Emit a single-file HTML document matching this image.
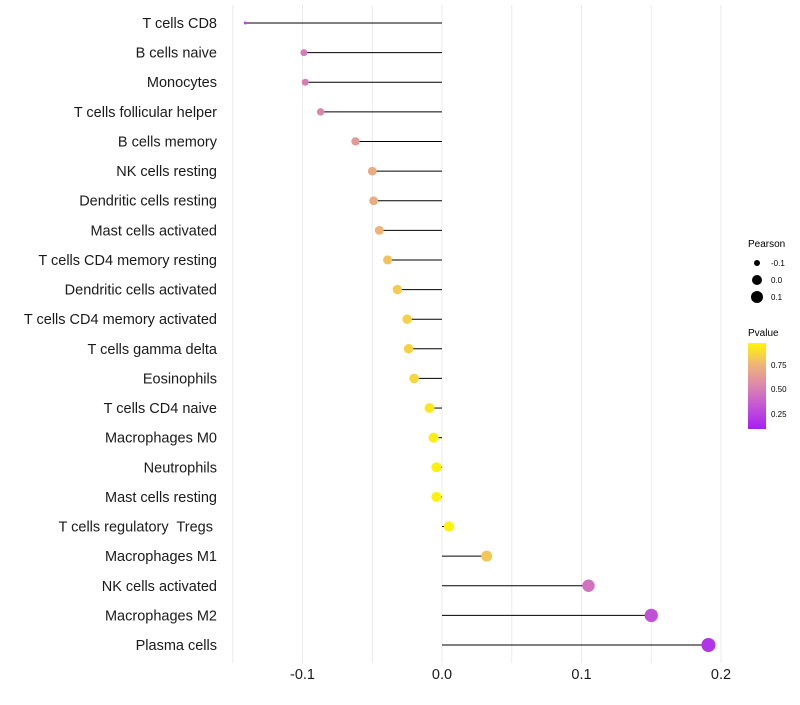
<!DOCTYPE html>
<html><head><meta charset="utf-8"><style>
body{margin:0;background:#fff;font-family:"Liberation Sans",sans-serif}
text{white-space:pre}
</style></head><body>
<svg id="chart" width="800" height="700" xmlns="http://www.w3.org/2000/svg">
<g id="grid"></g>
<g id="marks"></g>
<g id="ylabels"></g>
<g id="xlabels"></g>
<g font-size="10" fill="#000">
<text x="748" y="247">Pearson</text>
<circle cx="757" cy="263" r="3"/>
<text x="771" y="266" font-size="8">-0.1</text>
<circle cx="757" cy="280" r="5"/>
<text x="771" y="283" font-size="8">0.0</text>
<circle cx="757" cy="297" r="6"/>
<text x="771" y="300" font-size="8">0.1</text>
</g>
<defs><linearGradient id="pg" x1="0" y1="1" x2="0" y2="0">
<stop offset="0" stop-color="#A61FF5"/><stop offset="0.3" stop-color="#C85CD0"/><stop offset="0.5" stop-color="#DC86AC"/><stop offset="0.75" stop-color="#EFB577"/><stop offset="1" stop-color="#FFF700"/></linearGradient></defs>
<g font-size="10">
<text x="748" y="336">Pvalue</text>
<rect x="748" y="343" width="18" height="86" fill="url(#pg)"/>
<text x="771" y="368" font-size="8">0.75</text>
<text x="771" y="392" font-size="8">0.50</text>
<text x="771" y="417" font-size="8">0.25</text>
</g>
</svg>
<script>
const categories=["T cells CD8","B cells naive","Monocytes","T cells follicular helper","B cells memory","NK cells resting","Dendritic cells resting","Mast cells activated","T cells CD4 memory resting","Dendritic cells activated","T cells CD4 memory activated","T cells gamma delta","Eosinophils","T cells CD4 naive","Macrophages M0","Neutrophils","Mast cells resting","T cells regulatory  Tregs ","Macrophages M1","NK cells activated","Macrophages M2","Plasma cells"];
const pearson=[-0.141,-0.099,-0.098,-0.087,-0.062,-0.050,-0.049,-0.045,-0.039,-0.032,-0.025,-0.024,-0.020,-0.009,-0.006,-0.004,-0.004,0.005,0.032,0.105,0.150,0.191];
const pvalues=[0.2,0.45,0.45,0.5,0.6,0.7,0.7,0.75,0.8,0.83,0.86,0.86,0.88,0.94,0.96,0.98,0.98,0.98,0.82,0.4,0.25,0.15];
const xTicks=[-0.1,0.0,0.1,0.2];
const xTickLabels=["-0.1","0.0","0.1","0.2"];
const NS="http://www.w3.org/2000/svg";
const xs=v=>442+v*1395;
const ys=i=>23+i*(645-23)/(categories.length-1);
const rs=v=>1.5+5.5*Math.sqrt(Math.max(0,(v+0.141)/0.332));
const stops=[[0.07,[166,31,245]],[0.3,[200,92,208]],[0.5,[220,134,172]],[0.75,[239,181,119]],[1.0,[255,247,0]]];
function col(p){for(let i=0;i<stops.length-1;i++){const a=stops[i],b=stops[i+1];if(p<=b[0]||i==stops.length-2){let t=Math.max(0,Math.min(1,(p-a[0])/(b[0]-a[0])));return`rgb(${a[1].map((c,k)=>Math.round(c+(b[1][k]-c)*t)).join(",")})`;}}}
function mk(tag,at,parent){const e=document.createElementNS(NS,tag);for(const k in at)e.setAttribute(k,at[k]);document.getElementById(parent).appendChild(e);return e;}
for(let g=-0.15;g<=0.2001;g+=0.05){const l=mk("line",{x1:xs(g),x2:xs(g),y1:5,y2:663,stroke:"#ebebeb","stroke-width":1},"grid");

}
categories.forEach((c,i)=>{const y=ys(i);
const ln=mk("line",{x1:xs(0),x2:xs(pearson[i]),y1:y,y2:y,stroke:"#000","stroke-width":1},"marks");


const pt=mk("circle",{cx:xs(pearson[i]),cy:y,r:rs(pearson[i]),fill:col(pvalues[i])},"marks");


const t=mk("text",{x:217,y:y+5,"text-anchor":"end","font-size":"14.5",fill:"#1a1a1a"},"ylabels");t.textContent=c;

});
xTicks.forEach((v,i)=>{const t=mk("text",{x:xs(v),y:679,"text-anchor":"middle","font-size":"14.5",fill:"#1a1a1a"},"xlabels");t.textContent=xTickLabels[i];

});
</script>
</body></html>
